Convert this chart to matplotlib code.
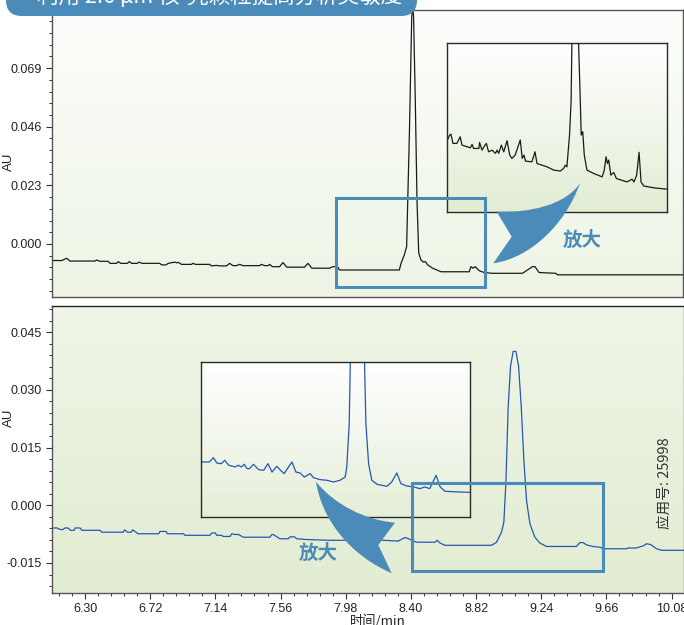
import numpy as np
import matplotlib
matplotlib.use("Agg")
import matplotlib.pyplot as plt
from matplotlib.colors import LinearSegmentedColormap
from matplotlib.patches import Rectangle, FancyBboxPatch, PathPatch
from matplotlib.path import Path
from matplotlib.ticker import MultipleLocator, FixedLocator, FormatStrFormatter

plt.rcParams['font.family'] = ['Liberation Sans', 'Noto Sans CJK SC', 'DejaVu Sans']
CJK = ['Noto Sans CJK SC', 'DejaVu Sans']

# --- data: upper chromatogram (time in min, AU) ---
top_time = [6.075, 6.150, 6.182, 6.203, 6.364, 6.375, 6.397, 6.450, 6.461, 6.504,
            6.515, 6.530, 6.573, 6.586, 6.601, 6.637, 6.650, 6.667, 6.783, 6.794,
            6.822, 6.837, 6.880, 6.891, 6.901, 6.923, 6.987, 6.998, 7.013, 7.105,
            7.116, 7.148, 7.170, 7.213, 7.234, 7.255, 7.277, 7.299, 7.320, 7.427,
            7.438, 7.460, 7.481, 7.492, 7.509, 7.556, 7.578, 7.603, 7.717, 7.739,
            7.764, 7.878, 7.900, 7.930, 7.943, 8.329, 8.340, 8.361, 8.376, 8.394,
            8.409, 8.415, 8.421, 8.432, 8.443, 8.454, 8.469, 8.484, 8.497, 8.512,
            8.544, 8.598, 8.780, 8.791, 8.806, 8.819, 8.845, 8.877, 8.930, 9.124,
            9.188, 9.205, 9.231, 9.339, 9.349, 10.159]
top_au = [-0.0065, -0.0065, -0.0056, -0.0067, -0.0067, -0.0063, -0.0068, -0.0068, -0.0076, -0.0076,
          -0.0069, -0.0076, -0.0076, -0.0069, -0.0076, -0.0076, -0.0071, -0.0076, -0.0076, -0.0082,
          -0.0082, -0.0076, -0.0071, -0.0074, -0.0072, -0.0080, -0.0080, -0.0076, -0.0080, -0.0080,
          -0.0086, -0.0084, -0.0086, -0.0086, -0.0076, -0.0085, -0.0085, -0.0080, -0.0085, -0.0085,
          -0.0080, -0.0085, -0.0085, -0.0080, -0.0089, -0.0089, -0.0073, -0.0091, -0.0091, -0.0076,
          -0.0095, -0.0095, -0.0089, -0.0089, -0.0102, -0.0102, -0.0076, -0.0043, -0.0011, 0.0435,
          0.0890, 0.0940, 0.0890, 0.0564, 0.0172, -0.0035, -0.0063, -0.0071, -0.0069, -0.0082,
          -0.0095, -0.0109, -0.0109, -0.0089, -0.0095, -0.0089, -0.0105, -0.0112, -0.0115, -0.0115,
          -0.0089, -0.0089, -0.0112, -0.0115, -0.0121, -0.0121]

# --- data: lower chromatogram ---
bot_time = [6.075, 6.120, 6.139, 6.158, 6.170, 6.190, 6.205, 6.230, 6.236, 6.268,
            6.279, 6.397, 6.408, 6.545, 6.555, 6.575, 6.597, 6.607, 6.629, 6.640,
            6.775, 6.783, 6.822, 6.830, 6.935, 6.944, 7.105, 7.116, 7.140, 7.148,
            7.180, 7.191, 7.235, 7.245, 7.270, 7.290, 7.320, 7.492, 7.503, 7.513,
            7.556, 7.610, 7.621, 7.650, 7.664, 7.728, 7.878, 8.222, 8.318, 8.361,
            8.380, 8.405, 8.437, 8.555, 8.570, 8.587, 8.619, 8.920, 8.952, 8.984,
            8.999, 9.012, 9.027, 9.042, 9.059, 9.077, 9.094, 9.111, 9.128, 9.145,
            9.167, 9.199, 9.231, 9.274, 9.467, 9.489, 9.510, 9.532, 9.574, 9.618,
            9.639, 9.790, 9.800, 9.854, 9.900, 9.918, 9.945, 9.983, 10.015, 10.159]
bot_au = [-0.0059, -0.0059, -0.0063, -0.0063, -0.0059, -0.0059, -0.0065, -0.0065, -0.0059, -0.0059,
          -0.0065, -0.0065, -0.0070, -0.0070, -0.0064, -0.0070, -0.0070, -0.0064, -0.0070, -0.0074,
          -0.0074, -0.0068, -0.0068, -0.0074, -0.0074, -0.0078, -0.0078, -0.0072, -0.0072, -0.0078,
          -0.0078, -0.0081, -0.0081, -0.0074, -0.0076, -0.0076, -0.0083, -0.0083, -0.0076, -0.0076,
          -0.0087, -0.0087, -0.0082, -0.0082, -0.0087, -0.0089, -0.0091, -0.0091, -0.0093, -0.0084,
          -0.0086, -0.0091, -0.0096, -0.0096, -0.0091, -0.0098, -0.0104, -0.0104, -0.0096, -0.0070,
          -0.0044, 0.0057, 0.0257, 0.0361, 0.0400, 0.0400, 0.0361, 0.0257, 0.0117, 0.0013,
          -0.0048, -0.0083, -0.0098, -0.0107, -0.0107, -0.0097, -0.0097, -0.0103, -0.0107, -0.0109,
          -0.0113, -0.0113, -0.0111, -0.0111, -0.0105, -0.0100, -0.0102, -0.0113, -0.0117, -0.0117]

# --- data: magnified views (relative position / relative signal) ---
top_zoom_x = [0.000, 0.012, 0.018, 0.027, 0.045, 0.060, 0.068, 0.106, 0.114, 0.121,
              0.145, 0.148, 0.159, 0.170, 0.179, 0.189, 0.205, 0.220, 0.228, 0.235,
              0.247, 0.258, 0.273, 0.285, 0.295, 0.310, 0.320, 0.333, 0.342, 0.350,
              0.357, 0.386, 0.400, 0.409, 0.455, 0.485, 0.515, 0.530, 0.538, 0.545,
              0.557, 0.564, 0.571, 0.584, 0.598, 0.606, 0.610, 0.617, 0.624, 0.636,
              0.667, 0.705, 0.715, 0.723, 0.729, 0.735, 0.745, 0.758, 0.770, 0.818,
              0.841, 0.850, 0.862, 0.873, 0.882, 0.894, 0.940, 1.000]
top_zoom_y = [0.420, 0.455, 0.460, 0.406, 0.406, 0.445, 0.396, 0.380, 0.400, 0.376,
              0.376, 0.412, 0.366, 0.390, 0.406, 0.356, 0.366, 0.347, 0.366, 0.347,
              0.396, 0.356, 0.422, 0.337, 0.317, 0.337, 0.376, 0.426, 0.317, 0.337,
              0.301, 0.297, 0.356, 0.287, 0.267, 0.248, 0.242, 0.258, 0.277, 0.267,
              0.455, 0.653, 1.300, 1.300, 1.000, 0.653, 0.455, 0.475, 0.337, 0.248,
              0.228, 0.208, 0.248, 0.327, 0.287, 0.307, 0.218, 0.234, 0.198, 0.178,
              0.194, 0.178, 0.218, 0.353, 0.178, 0.154, 0.143, 0.135]

bot_zoom_x = [0.000, 0.031, 0.046, 0.059, 0.076, 0.088, 0.103, 0.127, 0.138, 0.150,
              0.161, 0.171, 0.180, 0.195, 0.214, 0.233, 0.249, 0.264, 0.282, 0.296,
              0.309, 0.338, 0.353, 0.368, 0.384, 0.406, 0.418, 0.443, 0.468, 0.492,
              0.517, 0.536, 0.542, 0.551, 0.558, 0.604, 0.613, 0.623, 0.635, 0.654,
              0.691, 0.709, 0.728, 0.743, 0.765, 0.790, 0.814, 0.832, 0.850, 0.874,
              0.889, 0.907, 0.963, 1.000]
bot_zoom_y = [0.355, 0.355, 0.383, 0.348, 0.344, 0.366, 0.334, 0.323, 0.334, 0.323,
              0.340, 0.312, 0.312, 0.340, 0.306, 0.301, 0.344, 0.290, 0.327, 0.301,
              0.280, 0.355, 0.290, 0.284, 0.258, 0.280, 0.254, 0.241, 0.237, 0.226,
              0.237, 0.258, 0.323, 0.603, 1.300, 1.300, 0.603, 0.344, 0.237, 0.211,
              0.198, 0.226, 0.284, 0.215, 0.200, 0.194, 0.183, 0.194, 0.183, 0.269,
              0.194, 0.166, 0.161, 0.159]

time_ticks = [6.30, 6.72, 7.14, 7.56, 7.98, 8.40, 8.82, 9.24, 9.66, 10.08]
top_ticks = [0.000, 0.023, 0.046, 0.069]
bot_ticks = [-0.015, 0.000, 0.015, 0.030, 0.045]

BLUE = '#4b8bb9'
W, H = 684, 625


def fig_box(x0, y0, x1, y1):
    # pixel box (top-left origin) -> figure fraction rect
    return [x0 / W, 1 - y1 / H, (x1 - x0) / W, (y1 - y0) / H]


def inch(px, py):
    return (px / 100, (H - py) / 100)


def paint_bg(ax, top, bottom):
    cmap = LinearSegmentedColormap.from_list('bg', [bottom, top])
    grad = np.linspace(0, 1, 256).reshape(-1, 1)
    ax.imshow(grad, cmap=cmap, aspect='auto', extent=[0, 1, 0, 1],
              transform=ax.transAxes, origin='lower', zorder=0)


def style_axes(ax):
    for s in ax.spines.values():
        s.set_color('#555555')
        s.set_linewidth(1.0)
    ax.tick_params(which='major', direction='out', length=4, width=0.8,
                   color='#333333', labelsize=9, labelcolor='#222222')
    ax.tick_params(which='minor', direction='out', length=2.5, width=0.7, color='#333333')
    ax.tick_params(axis='x', top=False, which='both')
    ax.tick_params(axis='y', right=False, which='both')


fig = plt.figure(figsize=(W / 100, H / 100), dpi=100)

# upper panel
ax1 = fig.add_axes(fig_box(52, 10, 683, 297))
paint_bg(ax1, '#fdfefc', '#edf4e4')
ax1.plot(top_time, top_au, color='#1a1a1a', lw=0.9, zorder=2)
ax1.set_xlim(6.087, 10.16)
ax1.set_ylim(-0.0208, 0.0918)
ax1.yaxis.set_major_locator(FixedLocator(top_ticks))
ax1.yaxis.set_minor_locator(MultipleLocator(0.0046))
ax1.yaxis.set_major_formatter(FormatStrFormatter('%.3f'))
style_axes(ax1)
ax1.tick_params(axis='x', which='both', bottom=False, labelbottom=False)
ax1.set_ylabel('AU', fontsize=9.5, color='#222222')
ax1.yaxis.set_label_coords(-0.058, 0.47)

# lower panel
ax2 = fig.add_axes(fig_box(52, 306, 684, 593))
paint_bg(ax2, '#eff5e7', '#e2edd2')
ax2.plot(bot_time, bot_au, color='#2458b0', lw=0.9, zorder=2)
ax2.set_xlim(6.087, 10.16)
ax2.set_ylim(-0.0228, 0.0518)
ax2.xaxis.set_major_locator(FixedLocator(time_ticks))
ax2.xaxis.set_minor_locator(MultipleLocator(0.084))
ax2.xaxis.set_major_formatter(FormatStrFormatter('%.2f'))
ax2.yaxis.set_major_locator(FixedLocator(bot_ticks))
ax2.yaxis.set_minor_locator(MultipleLocator(0.003))
ax2.yaxis.set_major_formatter(FormatStrFormatter('%.3f'))
style_axes(ax2)
ax2.spines['top'].set_color('#222222')
ax2.set_ylabel('AU', fontsize=9.5, color='#222222')
ax2.yaxis.set_label_coords(-0.058, 0.61)
ax2.set_xlabel('时间/min', fontsize=9.5, family=CJK, color='#222222')
ax2.xaxis.set_label_coords(0.516, -0.073)

# magnified insets
ins1 = fig.add_axes(fig_box(447, 43, 667, 212))
paint_bg(ins1, '#ffffff', '#e2edd4')
ins1.plot(top_zoom_x, top_zoom_y, color='#1a1a1a', lw=0.9, zorder=2)
ins2 = fig.add_axes(fig_box(201, 362, 470, 517))
paint_bg(ins2, '#ffffff', '#e5eed8')
ins2.plot(bot_zoom_x, bot_zoom_y, color='#2458b0', lw=0.9, zorder=2)
for ins in (ins1, ins2):
    ins.set_xlim(0, 1)
    ins.set_ylim(0, 1)
    ins.set_xticks([])
    ins.set_yticks([])
    for s in ins.spines.values():
        s.set_color('#2a2a2a')
        s.set_linewidth(1.0)

# highlighted regions (drawn above the insets)
fig.add_artist(Rectangle((7.917, -0.0168), 0.966, 0.0348, transform=ax1.transData,
                         fill=False, ec=BLUE, lw=2.2, zorder=3))
fig.add_artist(Rectangle((8.407, -0.0172), 1.230, 0.0229, transform=ax2.transData,
                         fill=False, ec=BLUE, lw=2.2, zorder=3))

# curved "zoom" arrows
arrow_top = Path([inch(496.7, 211.7), inch(530, 213), inch(565, 205), inch(580, 183.3),
                  inch(565, 225), inch(530, 258), inch(493.3, 263.3),
                  inch(511.7, 236.7), inch(496.7, 211.7)],
                 [Path.MOVETO, Path.CURVE4, Path.CURVE4, Path.CURVE4,
                  Path.CURVE4, Path.CURVE4, Path.CURVE4,
                  Path.LINETO, Path.CLOSEPOLY])
arrow_bot = Path([inch(316, 481.7), inch(335, 505), inch(365, 520), inch(395, 522.7),
                  inch(378.3, 545), inch(391.7, 573.3),
                  inch(350, 555), inch(322, 520), inch(316, 481.7)],
                 [Path.MOVETO, Path.CURVE4, Path.CURVE4, Path.CURVE4,
                  Path.LINETO, Path.LINETO,
                  Path.CURVE4, Path.CURVE4, Path.CURVE4])
for p in (arrow_top, arrow_bot):
    fig.add_artist(PathPatch(p, transform=fig.dpi_scale_trans, fc=BLUE, ec='none', zorder=4))

fig.text(582 / W, 1 - 240 / H, '放大', family=CJK, fontsize=14, fontweight='bold',
         color=BLUE, ha='center', va='center')
fig.text(318 / W, 1 - 553 / H, '放大', family=CJK, fontsize=14, fontweight='bold',
         color=BLUE, ha='center', va='center')

# side note
fig.text(665 / W, 1 - 483 / H, '应用号: 25998', family=CJK, fontsize=10.5,
         color='#333333', rotation=90, ha='center', va='center')

# title banner (cut by the top edge)
fig.add_artist(FancyBboxPatch((0.06, (H - 16) / 100), 4.11, 0.5,
                              boxstyle='round,pad=0,rounding_size=0.16',
                              transform=fig.dpi_scale_trans, fc=BLUE, ec='none', zorder=5))
fig.text(37 / W, 1 - 3 / H, '利用 2.6 µm 核-壳颗粒提高分析灵敏度', family=CJK,
         fontsize=15.5, color='white', ha='left', va='baseline', zorder=6)

fig.savefig('out.png', dpi=100)
